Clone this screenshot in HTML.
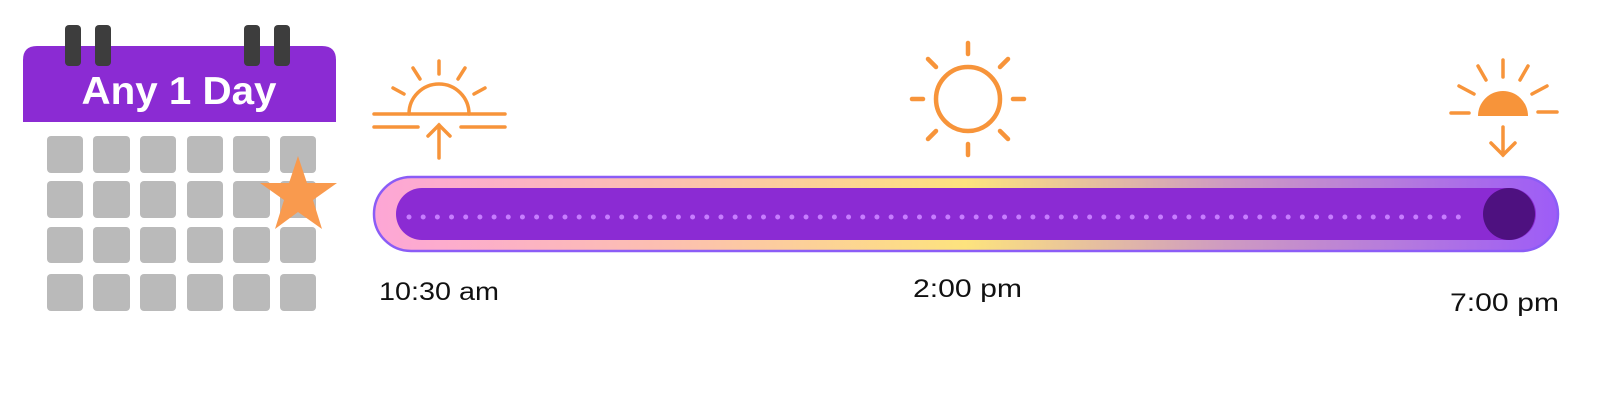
<!DOCTYPE html>
<html><head><meta charset="utf-8"><style>
html,body{margin:0;padding:0;background:#fff;width:1600px;height:400px;overflow:hidden}
</style></head><body>
<svg width="1600" height="400" viewBox="0 0 1600 400" xmlns="http://www.w3.org/2000/svg">
<defs>
<linearGradient id="g" x1="373" y1="0" x2="1559" y2="0" gradientUnits="userSpaceOnUse">
<stop offset="0" stop-color="#FDA6D6"/>
<stop offset="0.25" stop-color="#FCC0B0"/>
<stop offset="0.5" stop-color="#FDE37E"/>
<stop offset="0.72" stop-color="#CE9AC2"/>
<stop offset="1" stop-color="#9D5CF7"/>
</linearGradient>
</defs>
<path d="M23 122 V60 Q23 46 37 46 H322 Q336 46 336 60 V122 Z" fill="#8B2BD3"/>
<g fill="#3d3d3d">
<rect x="65" y="25" width="16" height="41" rx="4"/>
<rect x="95" y="25" width="16" height="41" rx="4"/>
<rect x="244" y="25" width="16" height="41" rx="4"/>
<rect x="274" y="25" width="16" height="41" rx="4"/>
</g>
<text x="179" y="104" text-anchor="middle" font-family="Liberation Sans, sans-serif" font-weight="bold" font-size="39" fill="#fff" textLength="195" lengthAdjust="spacingAndGlyphs">Any 1 Day</text>
<g fill="#bababa">
<rect x="47" y="136" width="36" height="37" rx="4"/><rect x="93" y="136" width="37" height="37" rx="4"/><rect x="140" y="136" width="36" height="37" rx="4"/><rect x="187" y="136" width="36" height="37" rx="4"/><rect x="233" y="136" width="37" height="37" rx="4"/><rect x="280" y="136" width="36" height="37" rx="4"/>
<rect x="47" y="181" width="36" height="37" rx="4"/><rect x="93" y="181" width="37" height="37" rx="4"/><rect x="140" y="181" width="36" height="37" rx="4"/><rect x="187" y="181" width="36" height="37" rx="4"/><rect x="233" y="181" width="37" height="37" rx="4"/><rect x="280" y="181" width="36" height="37" rx="4"/>
<rect x="47" y="227" width="36" height="36" rx="4"/><rect x="93" y="227" width="37" height="36" rx="4"/><rect x="140" y="227" width="36" height="36" rx="4"/><rect x="187" y="227" width="36" height="36" rx="4"/><rect x="233" y="227" width="37" height="36" rx="4"/><rect x="280" y="227" width="36" height="36" rx="4"/>
<rect x="47" y="274" width="36" height="37" rx="4"/><rect x="93" y="274" width="37" height="37" rx="4"/><rect x="140" y="274" width="36" height="37" rx="4"/><rect x="187" y="274" width="36" height="37" rx="4"/><rect x="233" y="274" width="37" height="37" rx="4"/><rect x="280" y="274" width="36" height="37" rx="4"/>
</g>
<polygon points="298,156 307,183 337,183 313,200 322,229 298,212 275,229 284,200 260,183 289,183" fill="#F99A4E"/>
<rect x="374" y="177" width="1184" height="74" rx="37" fill="url(#g)" stroke="#8B5CF6" stroke-width="2.5"/>
<rect x="396" y="188" width="1140" height="52" rx="26" fill="#8B2BD3"/>
<circle cx="1509" cy="214" r="26" fill="#4E1180"/>
<line x1="409" y1="217" x2="1462" y2="217" stroke="#C77DFF" stroke-width="5" stroke-linecap="round" stroke-dasharray="0 14.18"/>
<g stroke="#F7943A" stroke-width="3.5" stroke-linecap="round" fill="none">
<line x1="374" y1="114" x2="505" y2="114"/>
<line x1="374" y1="127" x2="418" y2="127"/>
<line x1="461" y1="127" x2="505" y2="127"/>
<path d="M409 114 A30 30 0 0 1 469 114"/>
<line x1="439" y1="61" x2="439" y2="74"/>
<line x1="413" y1="68" x2="420" y2="79"/>
<line x1="465" y1="68" x2="458" y2="79"/>
<line x1="393" y1="88" x2="404" y2="94"/>
<line x1="485" y1="88" x2="474" y2="94"/>
<line x1="439" y1="125" x2="439" y2="158"/>
<polyline points="428,136 439,125 450,136"/>
</g>
<g stroke="#F7943A" stroke-width="4.5" stroke-linecap="round" fill="none">
<circle cx="968" cy="99" r="32"/>
<line x1="968" y1="43" x2="968" y2="54"/>
<line x1="968" y1="144" x2="968" y2="155"/>
<line x1="912" y1="99" x2="923" y2="99"/>
<line x1="1013" y1="99" x2="1024" y2="99"/>
<line x1="928" y1="59" x2="936" y2="67"/>
<line x1="1008" y1="59" x2="1000" y2="67"/>
<line x1="928" y1="139" x2="936" y2="131"/>
<line x1="1008" y1="139" x2="1000" y2="131"/>
</g>
<path d="M1478 116 A25 25 0 0 1 1528 116 Z" fill="#F7943A"/>
<g stroke="#F7943A" stroke-width="3.5" stroke-linecap="round" fill="none">
<line x1="1503" y1="60" x2="1503" y2="77"/>
<line x1="1478" y1="66" x2="1486" y2="80"/>
<line x1="1528" y1="66" x2="1520" y2="80"/>
<line x1="1459" y1="86" x2="1474" y2="94"/>
<line x1="1547" y1="86" x2="1532" y2="94"/>
<line x1="1451" y1="113" x2="1469" y2="113"/>
<line x1="1538" y1="112" x2="1557" y2="112"/>
<line x1="1503" y1="127" x2="1503" y2="155"/>
<polyline points="1491,143 1503,155 1515,143"/>
</g>
<g font-family="Liberation Sans, sans-serif" font-size="25" fill="#111">
<text x="379" y="300" textLength="120" lengthAdjust="spacingAndGlyphs">10:30 am</text>
<text x="913" y="297" textLength="109" lengthAdjust="spacingAndGlyphs">2:00 pm</text>
<text x="1450" y="311" textLength="109" lengthAdjust="spacingAndGlyphs">7:00 pm</text>
</g>
</svg>
</body></html>
